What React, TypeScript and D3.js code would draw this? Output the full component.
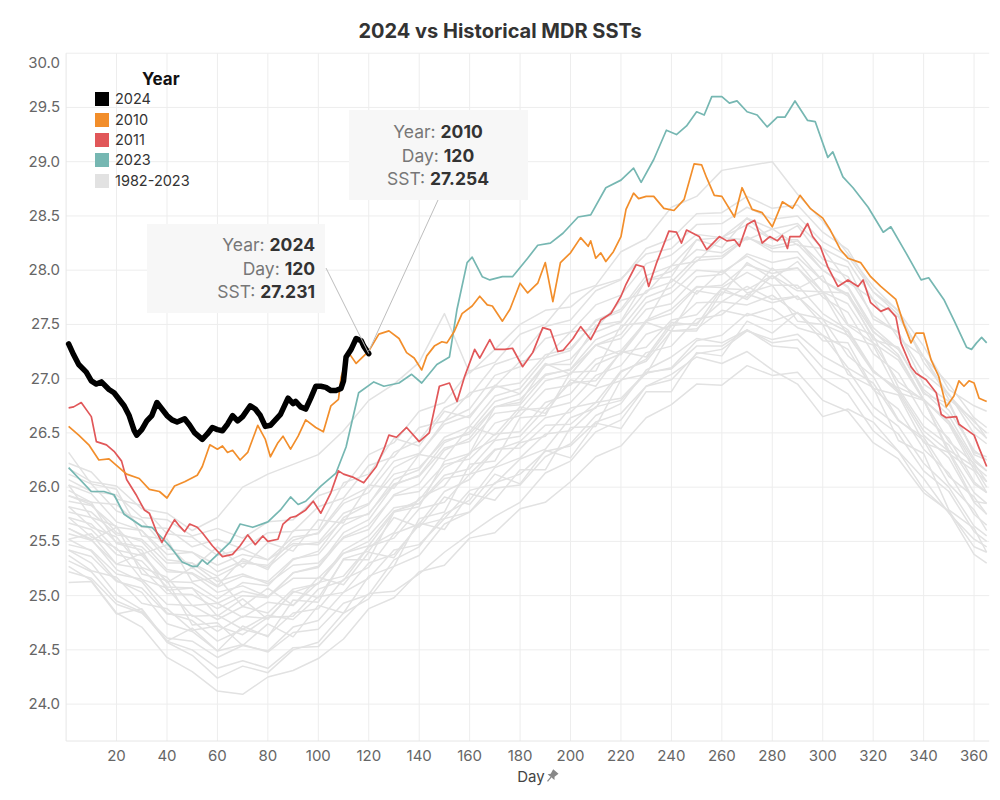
import React from "react";
import * as d3 from "d3";

const FONT = "Inter, 'Noto Sans', 'DejaVu Sans', sans-serif";

const legendLabels = ["2024", "2010", "2011", "2023", "1982-2023"];
const legendColors = ["#000000", "#f28e2b", "#e15759", "#76b7b2", "#e2e2e2"];
const xTicks = [20, 40, 60, 80, 100, 120, 140, 160, 180, 200, 220, 240, 260, 280, 300, 320, 340, 360];
const yTicks = [24.0, 24.5, 25.0, 25.5, 26.0, 26.5, 27.0, 27.5, 28.0, 28.5, 29.0, 29.5, 30.0];

const sst2024: [number, number][] = [
  [1,27.32],[3,27.22],[5,27.13],[8,27.06],[10,26.98],[12,26.95],[14,26.97],[17,26.90],[19,26.87],[21,26.81],
  [23,26.75],[25,26.66],[27,26.52],[28,26.48],[30,26.53],[32,26.61],[34,26.66],[36,26.78],[38,26.72],[40,26.66],
  [42,26.62],[44,26.60],[47,26.63],[49,26.57],[51,26.50],[54,26.44],[56,26.49],[58,26.55],[60,26.53],[62,26.52],
  [64,26.58],[66,26.66],[68,26.61],[70,26.65],[73,26.75],[75,26.72],[77,26.66],[79,26.56],[81,26.57],[83,26.62],
  [85,26.67],[88,26.82],[90,26.77],[91,26.79],[93,26.74],[95,26.72],[97,26.82],[99,26.93],[101,26.93],[103,26.92],
  [105,26.89],[107,26.89],[109,26.91],[110,26.98],[111,27.20],[113,27.27],[115,27.37],[117,27.35],[118,27.30],[120,27.231]
];

const sst2010: [number, number][] = [
  [1,26.56],[5,26.48],[9,26.39],[13,26.25],[17,26.26],[21,26.18],[24,26.12],[29,26.08],[33,25.98],[37,25.96],
  [40,25.90],[43,26.01],[47,26.05],[52,26.11],[54,26.19],[57,26.39],[60,26.35],[62,26.38],[64,26.32],[66,26.34],
  [69,26.25],[72,26.32],[76,26.57],[79,26.44],[81,26.28],[84,26.41],[86,26.47],[89,26.35],[92,26.47],[95,26.62],
  [99,26.55],[102,26.51],[105,26.75],[108,26.81],[109,27.01],[112,27.24],[115,27.14],[120,27.254],[124,27.41],[128,27.44],
  [132,27.37],[135,27.24],[138,27.19],[141,27.08],[143,27.21],[146,27.30],[149,27.34],[151,27.33],[154,27.44],[157,27.60],
  [161,27.67],[164,27.76],[167,27.68],[169,27.67],[173,27.53],[176,27.64],[180,27.88],[183,27.79],[187,27.88],[190,28.07],
  [193,27.71],[196,28.07],[200,28.16],[204,28.30],[207,28.22],[208,28.27],[210,28.11],[212,28.16],[214,28.08],[217,28.17],
  [220,28.31],[222,28.56],[225,28.71],[227,28.66],[230,28.68],[233,28.68],[237,28.57],[241,28.55],[245,28.65],[249,28.98],
  [252,28.97],[254,28.85],[257,28.69],[260,28.68],[265,28.49],[268,28.76],[272,28.56],[276,28.53],[280,28.40],[284,28.63],
  [288,28.57],[291,28.69],[295,28.57],[300,28.48],[303,28.37],[307,28.19],[310,28.11],[315,28.07],[319,27.94],[323,27.85],
  [326,27.79],[329,27.73],[332,27.51],[335,27.33],[337,27.42],[340,27.42],[343,27.17],[346,27.02],[349,26.74],[352,26.84],
  [354,26.98],[356,26.93],[358,26.98],[360,26.96],[362,26.82],[365,26.79]
];

const sst2011: [number, number][] = [
  [1,26.73],[3,26.74],[6,26.78],[10,26.65],[12,26.42],[16,26.39],[19,26.33],[22,26.24],[24,26.07],[28,25.92],
  [31,25.79],[33,25.76],[36,25.58],[38,25.49],[40,25.58],[43,25.70],[45,25.64],[47,25.59],[49,25.66],[52,25.63],
  [54,25.58],[58,25.46],[62,25.36],[66,25.38],[69,25.46],[72,25.56],[75,25.47],[78,25.55],[80,25.50],[84,25.52],
  [86,25.66],[89,25.72],[91,25.73],[95,25.79],[98,25.87],[101,25.76],[105,25.95],[108,26.15],[110,26.12],[114,26.09],
  [118,26.04],[123,26.19],[126,26.35],[128,26.48],[131,26.46],[135,26.55],[140,26.42],[144,26.50],[148,26.93],[152,26.96],
  [155,26.79],[158,27.02],[162,27.27],[164,27.19],[168,27.36],[170,27.27],[174,27.27],[177,27.28],[181,27.11],[185,27.24],
  [189,27.47],[192,27.45],[195,27.25],[197,27.26],[201,27.37],[204,27.48],[208,27.36],[212,27.54],[216,27.60],[220,27.76],
  [222,27.87],[226,28.05],[229,28.03],[231,27.85],[234,28.06],[239,28.36],[242,28.35],[244,28.25],[246,28.37],[251,28.31],
  [254,28.19],[259,28.31],[262,28.27],[265,28.28],[267,28.22],[270,28.42],[273,28.46],[276,28.25],[279,28.31],[282,28.27],
  [284,28.32],[286,28.20],[287,28.31],[291,28.31],[294,28.43],[296,28.31],[299,28.22],[302,28.03],[306,27.85],[310,27.91],
  [314,27.85],[316,27.91],[319,27.70],[323,27.62],[326,27.65],[329,27.57],[331,27.33],[335,27.11],[337,27.05],[341,26.99],
  [345,26.87],[347,26.67],[349,26.64],[353,26.65],[354,26.58],[357,26.53],[360,26.48],[362,26.36],[365,26.19]
];

const sst2023: [number, number][] = [
  [1,26.18],[10,25.96],[15,25.96],[19,25.93],[23,25.75],[30,25.64],[34,25.63],[41,25.46],[46,25.31],[50,25.27],
  [52,25.27],[54,25.33],[56,25.29],[61,25.40],[65,25.49],[69,25.66],[74,25.63],[80,25.68],[85,25.79],[89,25.91],
  [92,25.84],[95,25.87],[101,26.01],[107,26.13],[111,26.37],[116,26.87],[122,26.97],[126,26.93],[132,26.96],[137,27.04],
  [141,26.96],[147,27.13],[152,27.20],[155,27.64],[159,28.07],[161,28.12],[165,27.94],[168,27.91],[173,27.94],[177,27.94],
  [183,28.11],[187,28.23],[192,28.25],[197,28.34],[203,28.49],[208,28.51],[214,28.76],[220,28.83],[225,28.94],[228,28.81],
  [233,29.02],[238,29.29],[242,29.25],[246,29.33],[250,29.46],[253,29.43],[256,29.60],[260,29.60],[263,29.54],[266,29.56],
  [270,29.46],[274,29.43],[278,29.32],[282,29.41],[285,29.41],[289,29.56],[294,29.38],[297,29.37],[302,29.04],[304,29.09],
  [308,28.86],[312,28.76],[318,28.58],[324,28.35],[327,28.40],[333,28.16],[339,27.91],[342,27.93],[348,27.73],[352,27.54],
  [357,27.29],[359,27.27],[361,27.33],[363,27.38],[365,27.33]
];

// Historical years 1982-2023 (grey bundle), sampled on these days
const histDays = [1,10,20,30,40,50,60,70,80,90,100,110,120,130,140,150,160,170,180,190,200,210,220,230,240,250,260,270,280,290,300,310,320,330,340,350,360,365];

const hist01 = [25.27,25.14,24.84,24.71,24.43,24.30,24.12,24.09,24.25,24.31,24.42,24.60,24.88,24.98,25.22,25.28,25.53,25.58,25.80,25.86,26.05,26.28,26.38,26.64,26.76,26.95,26.94,27.12,27.03,27.06,26.80,26.70,26.41,26.26,25.95,25.78,25.45,25.40];
const hist02 = [25.42,25.30,25.01,24.87,24.57,24.45,24.24,24.35,24.29,24.50,24.57,24.84,24.97,25.27,25.37,25.66,25.77,26.04,26.12,26.33,26.38,26.60,26.68,26.93,26.99,27.23,27.27,27.44,27.36,27.41,27.21,27.08,26.74,26.56,26.22,26.00,25.64,25.55];
const hist03 = [25.22,25.16,24.92,24.84,24.61,24.58,24.43,24.54,24.49,24.71,24.77,25.03,25.16,25.42,25.47,25.71,25.77,25.99,26.02,26.28,26.40,26.66,26.77,27.08,27.20,27.37,27.33,27.45,27.30,27.28,27.00,26.86,26.52,26.33,25.98,25.77,25.38,25.30];
const hist04 = [25.52,25.41,25.14,25.03,24.74,24.67,24.49,24.55,24.48,24.66,24.69,24.93,25.01,25.33,25.45,25.75,25.88,26.18,26.27,26.49,26.52,26.74,26.80,27.05,27.10,27.35,27.40,27.60,27.53,27.61,27.40,27.27,26.90,26.72,26.35,26.13,25.75,25.65];
const hist05 = [25.37,25.23,25.17,24.93,24.88,24.68,24.72,24.64,24.80,24.81,25.06,25.14,25.45,25.53,25.80,25.86,26.12,26.19,26.41,26.47,26.73,26.78,27.07,27.16,27.44,27.46,27.63,27.58,27.65,27.47,27.40,27.10,26.96,26.61,26.46,26.10,25.91,25.75];
const hist06 = [25.62,25.52,25.24,25.13,24.84,24.77,24.58,24.69,24.63,24.84,24.88,25.15,25.26,25.57,25.66,25.96,26.07,26.34,26.42,26.64,26.69,26.91,26.98,27.24,27.30,27.55,27.59,27.78,27.70,27.76,27.55,27.43,27.07,26.89,26.52,26.33,25.95,25.85];
const hist07 = [25.72,25.54,25.44,25.15,25.07,24.81,24.82,24.69,24.82,24.78,24.99,25.03,25.30,25.38,25.65,25.71,25.97,26.03,26.26,26.35,26.64,26.73,27.06,27.18,27.49,27.51,27.71,27.68,27.77,27.60,27.55,27.21,27.02,26.62,26.43,26.03,25.79,25.60];
const hist08 = [25.47,25.42,25.20,25.15,24.92,24.91,24.78,24.90,24.84,25.06,25.11,25.39,25.50,25.78,25.85,26.11,26.17,26.43,26.47,26.72,26.78,27.03,27.12,27.41,27.49,27.70,27.71,27.85,27.73,27.76,27.50,27.40,27.06,26.91,26.56,26.39,26.03,25.95];
const hist09 = [25.82,25.63,25.54,25.26,25.17,24.91,24.93,24.80,24.94,24.91,25.12,25.18,25.45,25.58,25.90,26.01,26.32,26.44,26.71,26.73,26.96,26.98,27.24,27.29,27.54,27.59,27.83,27.82,27.95,27.81,27.80,27.49,27.33,26.97,26.80,26.42,26.22,26.05];
const hist10 = [25.67,25.61,25.38,25.32,25.08,25.07,24.93,25.04,24.99,25.21,25.26,25.54,25.65,25.92,25.96,26.21,26.26,26.49,26.51,26.78,26.86,27.13,27.23,27.54,27.64,27.85,27.84,27.98,27.86,27.86,27.60,27.45,27.08,26.87,26.48,26.27,25.86,25.75];
const hist11 = [25.92,25.84,25.58,25.50,25.24,25.20,25.03,25.09,24.99,25.16,25.16,25.39,25.46,25.77,25.88,26.18,26.30,26.59,26.66,26.90,26.94,27.18,27.26,27.53,27.60,27.84,27.86,28.05,27.97,28.02,27.80,27.69,27.33,27.17,26.80,26.61,26.24,26.15];
const hist12 = [25.77,25.72,25.49,25.45,25.22,25.21,25.08,25.18,25.13,25.34,25.38,25.65,25.76,26.03,26.10,26.36,26.42,26.68,26.71,26.98,27.04,27.31,27.41,27.70,27.79,28.00,27.98,28.13,28.00,28.02,27.75,27.61,27.23,27.05,26.66,26.45,26.05,25.95];
const hist13 = [26.02,25.94,25.68,25.60,25.33,25.30,25.13,25.20,25.11,25.28,25.30,25.53,25.61,25.93,26.03,26.34,26.45,26.74,26.81,27.04,27.08,27.31,27.37,27.64,27.69,27.94,27.96,28.15,28.07,28.12,27.90,27.78,27.43,27.27,26.90,26.71,26.34,26.25];
const hist14 = [25.57,25.51,25.29,25.25,25.02,25.01,24.88,25.00,24.98,25.21,25.27,25.58,25.70,26.02,26.11,26.41,26.51,26.79,26.86,27.12,27.18,27.43,27.52,27.81,27.89,28.12,28.13,28.30,28.20,28.24,28.00,27.84,27.44,27.22,26.81,26.58,26.16,26.05];
const hist15 = [26.12,26.03,25.78,25.70,25.43,25.40,25.22,25.32,25.26,25.46,25.49,25.76,25.85,26.12,26.18,26.43,26.49,26.74,26.76,27.03,27.09,27.36,27.46,27.75,27.84,28.09,28.11,28.30,28.22,28.27,28.05,27.94,27.58,27.42,27.05,26.86,26.49,26.40];
const hist16 = [25.87,25.83,25.63,25.60,25.38,25.40,25.28,25.38,25.33,25.54,25.57,25.85,25.95,26.24,26.31,26.58,26.66,26.92,26.96,27.22,27.28,27.53,27.62,27.91,27.99,28.19,28.16,28.31,28.17,28.17,27.90,27.76,27.38,27.20,26.81,26.60,26.20,26.10];
const hist17 = [26.22,26.14,25.89,25.83,25.57,25.54,25.37,25.43,25.33,25.48,25.47,25.70,25.75,26.07,26.16,26.46,26.56,26.84,26.91,27.19,27.26,27.54,27.64,27.95,28.04,28.28,28.30,28.48,28.38,28.43,28.20,28.08,27.73,27.57,27.20,26.95,26.64,26.55];
const hist18 = [25.97,25.86,25.84,25.63,25.62,25.45,25.52,25.43,25.58,25.59,25.82,25.90,26.20,26.28,26.55,26.61,26.87,26.93,27.16,27.19,27.43,27.46,27.72,27.79,28.04,28.08,28.30,28.28,28.38,28.23,28.20,27.89,27.73,27.37,27.20,26.81,26.62,26.45];
const hist19 = [26.17,26.05,26.01,25.80,25.76,25.60,25.72,26.00,26.12,26.21,26.30,26.52,26.80,26.95,27.15,27.60,27.05,27.27,27.50,27.63,27.66,27.85,27.92,28.15,28.20,28.42,28.43,28.58,28.47,28.50,28.26,28.13,27.80,27.63,27.15,26.85,26.60,26.50];
const hist20 = [26.07,25.96,25.93,25.72,25.70,25.55,25.62,25.53,25.68,25.70,25.92,26.00,26.30,26.41,26.70,26.78,27.07,27.15,27.41,27.50,27.78,27.86,28.17,28.29,28.58,28.68,28.92,28.96,29.00,28.70,28.45,28.15,27.85,27.62,27.30,26.90,26.75,26.70];
const hist21 = [25.82,25.77,25.56,25.52,25.30,25.30,25.18,25.30,25.28,25.51,25.58,25.88,26.00,26.32,26.43,26.73,26.84,27.13,27.21,27.48,27.54,27.81,27.91,28.20,28.29,28.52,28.53,28.68,28.57,28.60,28.35,28.19,27.80,27.59,27.20,26.85,26.56,26.45];
const hist22 = [25.32,25.22,24.95,24.85,24.58,24.50,24.33,24.40,24.33,24.52,24.53,24.78,25.02,25.04,25.20,25.40,25.57,25.73,25.86,26.13,26.24,26.51,26.62,26.93,27.04,27.20,27.14,27.25,27.08,26.95,26.65,26.72,26.60,26.33,26.08,25.76,25.52,25.45];
const hist23 = [25.72,25.66,25.42,25.37,25.13,25.12,24.97,25.12,25.09,25.33,25.41,25.72,25.84,26.18,26.30,26.61,26.72,27.03,27.11,27.37,27.43,27.68,27.77,28.06,28.14,28.33,28.30,28.42,28.28,28.28,28.00,27.85,27.47,27.27,26.88,26.66,26.26,26.15];
const hist24 = [25.42,25.36,25.13,25.07,24.83,24.82,24.67,24.81,24.79,25.03,25.11,25.42,25.55,25.81,25.85,26.08,26.12,26.35,26.36,26.57,26.58,26.78,26.82,27.06,27.09,27.30,27.30,27.45,27.33,27.36,27.10,26.99,26.66,26.49,26.15,25.96,25.59,25.50];
const hist25 = [25.92,25.86,25.48,25.42,25.05,25.07,24.81,24.97,24.78,25.04,24.98,25.33,25.33,25.77,25.82,26.24,26.31,26.74,26.78,27.13,27.13,27.49,27.53,27.91,27.94,28.28,28.21,28.48,28.28,28.41,28.10,28.03,27.55,27.43,26.95,26.79,26.30,26.25];
const hist26 = [25.62,25.51,25.63,25.38,25.47,25.25,25.45,25.26,25.49,25.41,25.70,25.67,26.02,25.99,26.30,26.26,26.56,26.48,26.74,26.68,26.99,26.93,27.25,27.20,27.52,27.49,27.83,27.73,27.95,27.73,27.79,27.39,27.31,26.87,26.80,26.34,26.19,26.00];
const hist27 = [25.12,25.13,24.83,24.88,24.58,24.70,24.49,24.72,24.62,24.96,24.94,25.34,25.41,25.72,25.63,25.91,25.84,26.12,26.03,26.34,26.27,26.59,26.54,26.88,26.88,27.24,27.21,27.53,27.42,27.61,27.35,27.33,26.91,26.85,26.41,26.32,25.87,25.85];
const hist28 = [26.02,25.72,25.64,25.20,25.14,24.73,24.75,24.54,24.74,24.62,24.91,24.84,25.18,25.27,25.71,25.77,26.21,26.24,26.64,26.66,27.06,27.07,27.49,27.52,27.92,27.78,28.00,27.79,27.86,27.53,27.50,27.04,26.92,26.43,26.31,25.79,25.62,25.40];
const hist29 = [25.52,25.57,25.29,25.39,25.12,25.26,25.09,25.34,25.24,25.60,25.61,26.04,26.12,26.45,26.38,26.70,26.64,26.94,26.86,27.14,27.04,27.31,27.22,27.52,27.44,27.81,27.77,28.07,27.92,28.08,27.80,27.79,27.36,27.29,26.86,26.77,26.32,26.28];
const hist30 = [26.32,26.03,25.98,25.55,25.52,25.13,25.17,24.90,25.07,24.91,25.17,25.10,25.40,25.35,25.67,25.61,25.94,25.88,26.16,26.16,26.55,26.56,26.99,27.04,27.44,27.44,27.80,27.75,28.02,27.83,27.95,27.50,27.40,26.92,26.81,26.31,26.15,25.95];

const histSeries = [hist01, hist02, hist03, hist04, hist05, hist06, hist07, hist08, hist09, hist10, hist11, hist12,
  hist13, hist14, hist15, hist16, hist17, hist18, hist19, hist20, hist21, hist22, hist23, hist24,
  hist25, hist26, hist27, hist28, hist29, hist30];

export default function App() {
  const x = d3.scaleLinear().domain([0, 366]).range([66.1, 989.2]);
  const y = d3.scaleLinear().domain([23.66, 30]).range([741, 53.2]);
  const line = d3.line<[number, number]>().x((d) => x(d[0])).y((d) => y(d[1]));
  const plotL = x(0), plotR = x(366), plotT = y(30), plotB = y(23.66);

  const p2024: [number, number] = [x(120), y(27.231)];
  const p2010: [number, number] = [x(120), y(27.254)];

  return (
    <svg width={1000} height={800} style={{ position: "absolute", left: 0, top: 0, background: "#fff" }} fontFamily={FONT}>
      <text x={500} y={38} textAnchor="middle" fontSize={20} fontWeight={700} fill="#333">2024 vs Historical MDR SSTs</text>

      {yTicks.map((t) => (
        <line key={"gy" + t} x1={plotL} x2={plotR} y1={y(t)} y2={y(t)} stroke="#ededed" strokeWidth={1} />
      ))}
      {xTicks.map((t) => (
        <line key={"gx" + t} x1={x(t)} x2={x(t)} y1={plotT} y2={plotB} stroke="#ededed" strokeWidth={1} />
      ))}
      <line x1={plotL} x2={plotL} y1={plotT} y2={plotB} stroke="#e6e6e6" />
      <line x1={plotL} x2={plotR} y1={plotB} y2={plotB} stroke="#e6e6e6" />

      {yTicks.map((t) => (
        <text key={"ly" + t} x={60} y={y(t) + 5 + (t === 30 ? 10 : 0)} textAnchor="end" fontSize={15} fill="#666">
          {t.toFixed(1)}
        </text>
      ))}
      {xTicks.map((t) => (
        <text key={"lx" + t} x={x(t)} y={761} textAnchor="middle" fontSize={15} fill="#666">{t}</text>
      ))}
      <text x={531} y={782} textAnchor="middle" fontSize={15} fill="#444">Day</text>
      <g transform="translate(552,776) rotate(40)">
        <path d="M-3.5,-6 L3.5,-6 L2.5,-1 L4.5,1.5 L-4.5,1.5 L-2.5,-1 Z" fill="#888" />
        <line x1={0} y1={1.5} x2={0} y2={7} stroke="#888" strokeWidth={1.3} />
      </g>

      <g fill="none" stroke="#e2e2e2" strokeWidth={1.5} strokeLinejoin="round">
        {histSeries.map((s, i) => (
          <path key={"h" + i} d={line(histDays.map((d, j) => [d, s[j]] as [number, number])) || ""} />
        ))}
      </g>

      <path d={line(sst2023) || ""} fill="none" stroke="#76b7b2" strokeWidth={1.7} strokeLinejoin="round" />
      <path d={line(sst2011) || ""} fill="none" stroke="#e15759" strokeWidth={1.7} strokeLinejoin="round" />
      <path d={line(sst2010) || ""} fill="none" stroke="#f28e2b" strokeWidth={1.7} strokeLinejoin="round" />
      <path d={line(sst2024) || ""} fill="none" stroke="#000" strokeWidth={5.5} strokeLinejoin="round" strokeLinecap="round" />

      <text x={142} y={85} fontSize={17} fontWeight={700} fill="#111">Year</text>
      {legendLabels.map((lab, i) => {
        const cy = [99, 120, 140, 160, 181][i];
        return (
          <g key={"lg" + lab}>
            <rect x={95} y={cy - 7} width={14} height={14} fill={legendColors[i]} />
            <text x={115} y={cy + 5} fontSize={14.5} fill="#333">{lab}</text>
          </g>
        );
      })}

      <line x1={326} y1={268} x2={p2024[0]} y2={p2024[1]} stroke="#bdbdbd" strokeWidth={1} />
      <line x1={438} y1={200} x2={p2010[0]} y2={p2010[1]} stroke="#bdbdbd" strokeWidth={1} />
      <rect x={147} y={224} width={178} height={89} fill="#f7f7f7" />
      <g fontSize={17.5} textAnchor="end">
        <text x={315} y={251}><tspan fill="#777">Year: </tspan><tspan fill="#333" fontWeight={700}>2024</tspan></text>
        <text x={315} y={275}><tspan fill="#777">Day: </tspan><tspan fill="#333" fontWeight={700}>120</tspan></text>
        <text x={315} y={298}><tspan fill="#777">SST: </tspan><tspan fill="#333" fontWeight={700}>27.231</tspan></text>
      </g>
      <rect x={349} y={110} width={179} height={90} fill="#f7f7f7" />
      <g fontSize={17.5} textAnchor="middle">
        <text x={438} y={138}><tspan fill="#777">Year: </tspan><tspan fill="#333" fontWeight={700}>2010</tspan></text>
        <text x={438} y={162}><tspan fill="#777">Day: </tspan><tspan fill="#333" fontWeight={700}>120</tspan></text>
        <text x={438} y={185}><tspan fill="#777">SST: </tspan><tspan fill="#333" fontWeight={700}>27.254</tspan></text>
      </g>
    </svg>
  );
}
